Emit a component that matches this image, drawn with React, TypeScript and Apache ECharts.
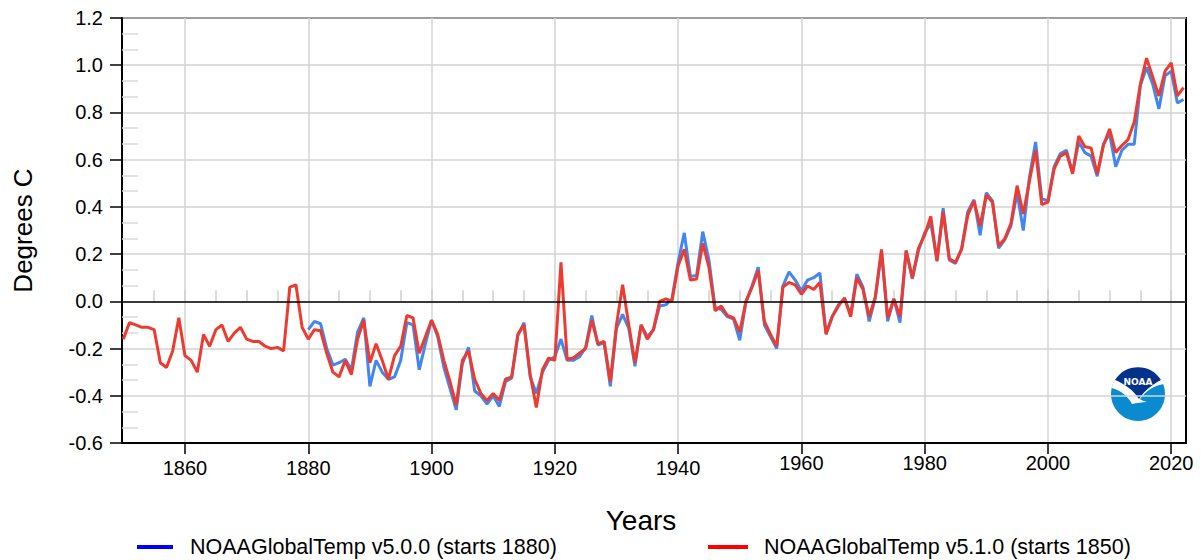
import React, { useEffect, useRef } from "react";
import * as echarts from "echarts";

// ---------- data ----------
const START_V51 = 1850; // NOAAGlobalTemp v5.1.0 starts 1850
const START_V50 = 1880; // NOAAGlobalTemp v5.0.0 starts 1880

const v51: number[] = [
  -0.16, -0.09, -0.1, -0.11, -0.11, -0.12, -0.26, -0.28, -0.21, -0.07, // 1850-1859
  -0.23, -0.25, -0.3, -0.14, -0.19, -0.12, -0.1, -0.17, -0.135, -0.11, // 1860-1869
  -0.16, -0.17, -0.17, -0.19, -0.2, -0.195, -0.21, 0.06, 0.07, -0.11, // 1870-1879
  -0.16, -0.12, -0.125, -0.22, -0.3, -0.32, -0.25, -0.31, -0.16, -0.08, // 1880-1889
  -0.26, -0.18, -0.25, -0.33, -0.23, -0.19, -0.06, -0.07, -0.22, -0.15, // 1890-1899
  -0.08, -0.14, -0.25, -0.34, -0.44, -0.25, -0.21, -0.33, -0.39, -0.42, // 1900-1909
  -0.39, -0.42, -0.33, -0.32, -0.14, -0.1, -0.31, -0.45, -0.29, -0.24, // 1910-1919
  -0.25, 0.165, -0.245, -0.24, -0.22, -0.2, -0.08, -0.18, -0.17, -0.34, // 1920-1929
  -0.1, 0.07, -0.1, -0.26, -0.1, -0.16, -0.12, 0.0, 0.01, 0.0, // 1930-1939
  0.15, 0.22, 0.09, 0.095, 0.245, 0.145, -0.04, -0.02, -0.06, -0.07, // 1940-1949
  -0.13, 0.0, 0.06, 0.13, -0.085, -0.14, -0.19, 0.06, 0.08, 0.07, // 1950-1959
  0.03, 0.065, 0.05, 0.08, -0.14, -0.065, -0.02, 0.015, -0.065, 0.1, // 1960-1969
  0.05, -0.065, 0.02, 0.22, -0.07, 0.01, -0.065, 0.215, 0.1, 0.225, // 1970-1979
  0.28, 0.36, 0.17, 0.38, 0.18, 0.165, 0.22, 0.365, 0.425, 0.32, // 1980-1989
  0.45, 0.42, 0.235, 0.265, 0.33, 0.49, 0.37, 0.51, 0.64, 0.41, // 1990-1999
  0.42, 0.56, 0.615, 0.63, 0.54, 0.7, 0.655, 0.65, 0.54, 0.66, // 2000-2009
  0.73, 0.63, 0.66, 0.685, 0.76, 0.92, 1.03, 0.95, 0.87, 0.975, // 2010-2019
  1.01, 0.87, 0.905, // 2020-2022
];

const v50: number[] = [
  -0.12, -0.085, -0.095, -0.2, -0.27, -0.26, -0.245, -0.29, -0.13, -0.07, // 1880-1889
  -0.36, -0.25, -0.3, -0.33, -0.32, -0.25, -0.09, -0.1, -0.29, -0.18, // 1890-1899
  -0.08, -0.15, -0.28, -0.37, -0.46, -0.265, -0.195, -0.38, -0.4, -0.435, // 1900-1909
  -0.4, -0.445, -0.34, -0.325, -0.145, -0.09, -0.32, -0.39, -0.3, -0.25, // 1910-1919
  -0.235, -0.16, -0.25, -0.25, -0.235, -0.195, -0.06, -0.185, -0.175, -0.36, // 1920-1929
  -0.115, -0.055, -0.115, -0.275, -0.1, -0.15, -0.12, -0.02, -0.015, 0.01, // 1930-1939
  0.165, 0.29, 0.105, 0.11, 0.295, 0.175, -0.025, -0.035, -0.065, -0.075, // 1940-1949
  -0.165, -0.005, 0.065, 0.145, -0.1, -0.15, -0.2, 0.065, 0.125, 0.09, // 1950-1959
  0.045, 0.09, 0.1, 0.12, -0.135, -0.065, -0.015, 0.01, -0.055, 0.115, // 1960-1969
  0.06, -0.085, 0.015, 0.21, -0.085, 0.01, -0.09, 0.215, 0.095, 0.215, // 1970-1979
  0.29, 0.33, 0.175, 0.395, 0.175, 0.16, 0.225, 0.38, 0.43, 0.28, // 1980-1989
  0.46, 0.425, 0.225, 0.26, 0.32, 0.46, 0.3, 0.525, 0.675, 0.435, // 1990-1999
  0.425, 0.57, 0.625, 0.64, 0.545, 0.675, 0.63, 0.615, 0.53, 0.665, // 2000-2009
  0.71, 0.57, 0.64, 0.665, 0.665, 0.915, 0.99, 0.92, 0.815, 0.955, // 2010-2019
  0.975, 0.84, 0.855, // 2020-2022
];

const majorYears = [1860, 1880, 1900, 1920, 1940, 1960, 1980, 2000, 2020];
const lowerLabelYears = [1860, 1880, 1900, 1920, 1940];
const upperLabelYears = [1960, 1980, 2000, 2020];
const minorYears = [
  1855, 1860, 1865, 1870, 1875, 1880, 1885, 1890, 1895, 1900, 1905, 1910,
  1915, 1920, 1925, 1930, 1935, 1940, 1945, 1950, 1955, 1960, 1965, 1970,
  1975, 1980, 1985, 1990, 1995, 2000, 2005, 2010, 2015, 2020,
];

const X_MIN = 1849.78;
const X_MAX = 2022.4;
const Y_MIN = -0.6;
const Y_MAX = 1.2;
const Y_STEP = 0.2;

const seriesNames = [
  "NOAAGlobalTemp v5.0.0 (starts 1880)",
  "NOAAGlobalTemp v5.1.0 (starts 1850)",
];

const FONT = "'Liberation Sans', Arial, sans-serif";

// NOAA logo shapes (relative to logo centre)
const WHITE_D =
  "M -26.3 -6 C -18 -4 -10 2 -6 10 C -1 9 4 8 9 8 C 5 7 3 6 2 5 C 8 -3 15 -8 25.5 -10 A 27 27 0 0 0 -26.3 -6 Z";
const NAVY_D =
  "M -23 -14 A 27 27 0 0 1 23 -14 C 15 -10 7 -4 1 5 C -5 -4 -13 -10 -23 -14 Z";

let registered = false;
function registerShapes() {
  if (registered) return;
  echarts.graphic.registerShape("noaaWhite", echarts.graphic.extendPath(WHITE_D, {}));
  echarts.graphic.registerShape("noaaNavy", echarts.graphic.extendPath(NAVY_D, {}));
  registered = true;
}

export default function App() {
  const ref = useRef<HTMLDivElement>(null);

  useEffect(() => {
    if (!ref.current) return;
    registerShapes();
    const chart = echarts.init(ref.current, undefined, { renderer: "svg" });

    const red = v51.map((v, i) => [START_V51 + i, v]);
    const blue = v50.map((v, i) => [START_V50 + i, v]);

    const gridColor = "#d3d3d3";
    const LX = 122;
    const LY = 18;
    const LW = 1064;
    const LH = 425;
    const cx = 1138;
    const cy = 394;

    const option: any = {
      animation: false,
      backgroundColor: "#ffffff",
      textStyle: { fontFamily: FONT },
      grid: {
        left: LX,
        top: LY,
        width: LW,
        height: LH,
        show: true,
        borderColor: "#000",
        borderWidth: 2,
        backgroundColor: "transparent",
        containLabel: false,
        outerBoundsMode: "none",
      },
      xAxis: [
        {
          type: "value",
          min: X_MIN,
          max: X_MAX,
          position: "bottom",
          axisLine: { show: true, onZero: false, lineStyle: { color: "#000", width: 2 } },
          axisTick: {
            show: true,
            customValues: majorYears,
            length: 11,
            lineStyle: { color: "#000", width: 1.5 },
          },
          axisLabel: {
            show: true,
            customValues: lowerLabelYears,
            margin: 15,
            fontSize: 20,
            color: "#000",
            fontFamily: FONT,
            formatter: (v: number) => String(Math.round(v)),
          },
          splitLine: { show: true, lineStyle: { color: gridColor, width: 1.5 } },
        },
        {
          type: "value",
          min: X_MIN,
          max: X_MAX,
          position: "bottom",
          offset: 0,
          axisLine: { show: false },
          axisTick: { show: false, customValues: upperLabelYears },
          axisLabel: {
            show: true,
            customValues: upperLabelYears,
            margin: 10,
            fontSize: 20,
            color: "#000",
            fontFamily: FONT,
            formatter: (v: number) => String(Math.round(v)),
          },
          splitLine: { show: false },
        },
        {
          type: "value",
          min: X_MIN,
          max: X_MAX,
          position: "bottom",
          offset: 0,
          axisLine: { show: false },
          axisTick: {
            show: true,
            inside: true,
            customValues: minorYears,
            length: 11,
            lineStyle: { color: "#cfcfcf", width: 1.5 },
          },
          axisLabel: { show: false },
          splitLine: { show: false },
        },
      ],
      yAxis: [
        {
          type: "value",
          min: Y_MIN,
          max: Y_MAX,
          interval: Y_STEP,
          position: "left",
          name: "Degrees C",
          nameLocation: "middle",
          nameGap: 86,
          nameTextStyle: { fontSize: 26, color: "#000", fontFamily: FONT },
          axisLine: { show: true, onZero: false, lineStyle: { color: "#000", width: 2 } },
          axisTick: { show: true, length: 12, lineStyle: { color: "#000", width: 1.5 } },
          axisLabel: {
            margin: 19,
            fontSize: 20,
            color: "#000",
            fontFamily: FONT,
            formatter: (v: number) => (Math.abs(v) < 1e-9 ? "0.0" : v.toFixed(1)),
          },
          splitLine: { show: true, lineStyle: { color: gridColor, width: 1.5 } },
        },
        {
          type: "value",
          min: Y_MIN,
          max: Y_MAX,
          interval: Y_STEP,
          position: "left",
          offset: 0,
          axisLine: { show: false },
          axisTick: { show: false, inside: true },
          axisLabel: { show: false },
          splitLine: { show: false },
          minorTick: {
            show: true,
            splitNumber: 3,
            length: 16,
            lineStyle: { color: "#d8d8d8", width: 1.5 },
          },
        },
      ],
      series: [
        {
          name: "zero",
          type: "line",
          data: [],
          z: 1,
          silent: true,
          markLine: {
            silent: true,
            symbol: ["none", "none"],
            label: { show: false },
            lineStyle: { color: "#000", width: 1.5, type: "solid" },
            data: [{ yAxis: 0 }],
          },
        },
        {
          name: seriesNames[0],
          type: "line",
          data: blue,
          showSymbol: false,
          symbol: "none",
          z: 2,
          lineStyle: { color: "#4286f2", width: 3 },
          itemStyle: { color: "#0000ff" },
        },
        {
          name: seriesNames[1],
          type: "line",
          data: red,
          showSymbol: false,
          symbol: "none",
          z: 3,
          lineStyle: { color: "#ee3b2f", width: 3 },
          itemStyle: { color: "#ff0000" },
        },
      ],
      graphic: [
        {
          type: "text",
          x: 641,
          y: 520,
          style: {
            text: "Years",
            fontSize: 28,
            fontFamily: FONT,
            fill: "#000",
            align: "center",
            verticalAlign: "middle",
          },
        },
        // legend
        {
          type: "line",
          shape: { x1: 137, y1: 547, x2: 173, y2: 547 },
          style: { stroke: "#0000ff", lineWidth: 4 },
        },
        {
          type: "text",
          x: 190,
          y: 547,
          style: {
            text: seriesNames[0],
            fontSize: 21.5,
            fontFamily: FONT,
            fill: "#000",
            align: "left",
            verticalAlign: "middle",
          },
        },
        {
          type: "line",
          shape: { x1: 708, y1: 547, x2: 748, y2: 547 },
          style: { stroke: "#ff0000", lineWidth: 4 },
        },
        {
          type: "text",
          x: 764,
          y: 547,
          style: {
            text: seriesNames[1],
            fontSize: 21.5,
            fontFamily: FONT,
            fill: "#000",
            align: "left",
            verticalAlign: "middle",
          },
        },
        // NOAA logo
        {
          type: "group",
          z: 100,
          children: [
            {
              type: "circle",
              shape: { cx, cy, r: 27 },
              style: { fill: "#0a8bd0" },
            },
            {
              type: "noaaWhite",
              x: cx,
              y: cy,
              style: { fill: "#ffffff" },
            },
            {
              type: "noaaNavy",
              x: cx,
              y: cy,
              style: { fill: "#04318a" },
            },
            {
              type: "text",
              x: cx,
              y: cy - 12,
              style: {
                text: "NOAA",
                fontSize: 9,
                fontWeight: "bold",
                fontFamily: "'DejaVu Sans', sans-serif",
                fill: "#ffffff",
                align: "center",
                verticalAlign: "middle",
              },
            },
          ],
        },
      ],
    };

    chart.setOption(option);
    return () => {
      chart.dispose();
    };
  }, []);

  return (
    <div
      ref={ref}
      style={{ position: "fixed", left: 0, top: 0, width: 1203, height: 560, background: "#fff" }}
    />
  );
}
